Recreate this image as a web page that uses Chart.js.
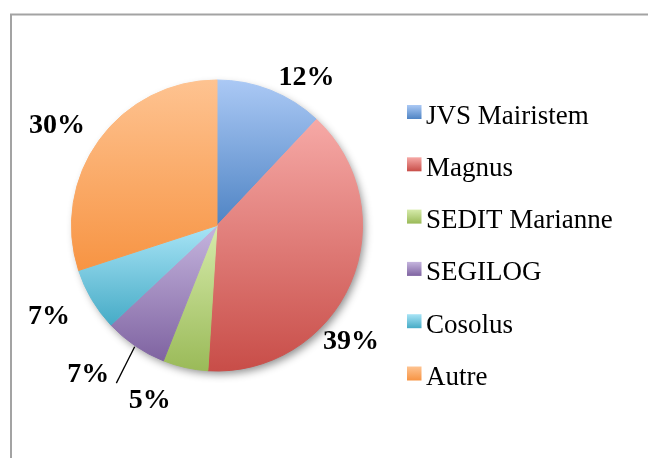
<!DOCTYPE html>
<html>
<head>
<meta charset="utf-8">
<script src="https://cdn.jsdelivr.net/npm/chart.js@4/dist/chart.umd.min.js"></script>
<style>
  html, body { margin: 0; padding: 0; background: #fff; }
  #wrap { position: relative; width: 648px; height: 458px; }
</style>
</head>
<body>
<div id="wrap"><canvas id="pieChart"></canvas></div>
<script>
// data
const categories = ["JVS Mairistem", "Magnus", "SEDIT Marianne", "SEGILOG", "Cosolus", "Autre"];
const shares = [12, 39, 5, 7, 7, 30];

// styles
const colorsTop = ["#abc9f5", "#f6a9a6", "#d6ebab", "#c5b5de", "#a8e4f6", "#fec391"];
const colorsBottom = ["#4f84c4", "#c84d48", "#9aba58", "#7f63a1", "#46abc6", "#f79443"];
const labelNudge = [[25, 15], [-27, 47], [-29, 4], [-30, 4], [-17, 2], [-18, 3]];
const leaderLines = [false, false, false, true, false, false];

const total = shares.reduce((a, b) => a + b, 0);

// vertical gradient over the bounding box of one slice
function sliceGradient(context) {
  const chart = context.chart;
  const area = chart.chartArea;
  const i = context.dataIndex;
  if (!area) return colorsBottom[i];
  const cx = (area.left + area.right) / 2;
  const cy = (area.top + area.bottom) / 2;
  const r = Math.min(area.width, area.height) / 2;
  let before = 0;
  for (let k = 0; k < i; k++) before += shares[k];
  const a0 = -Math.PI / 2 + 2 * Math.PI * before / total;
  const a1 = a0 + 2 * Math.PI * shares[i] / total;
  const ys = [cy, cy + r * Math.sin(a0), cy + r * Math.sin(a1)];
  [-Math.PI / 2, Math.PI / 2, 3 * Math.PI / 2].forEach((k) => {
    if (k >= a0 - 1e-9 && k <= a1 + 1e-9) ys.push(cy + r * Math.sin(k));
  });
  const g = chart.ctx.createLinearGradient(0, Math.min(...ys), 0, Math.max(...ys));
  g.addColorStop(0, colorsTop[i]);
  g.addColorStop(1, colorsBottom[i]);
  return g;
}

// frame around the chart area
const framePlugin = {
  id: "frame",
  beforeDraw(chart) {
    const ctx = chart.ctx;
    ctx.save();
    ctx.strokeStyle = "#a3a3a3";
    ctx.lineWidth = 2;
    ctx.beginPath();
    ctx.moveTo(11, chart.height);
    ctx.lineTo(11, 14.5);
    ctx.lineTo(chart.width, 14.5);
    ctx.stroke();
    ctx.restore();
  }
};

// soft shadow under the pie
const shadowPlugin = {
  id: "pieShadow",
  beforeDatasetsDraw(chart) {
    const el = chart.getDatasetMeta(0).data[0];
    if (!el) return;
    const ctx = chart.ctx;
    ctx.save();
    ctx.shadowColor = "rgba(0,0,0,0.45)";
    ctx.shadowBlur = 9;
    ctx.shadowOffsetX = 3;
    ctx.shadowOffsetY = 4;
    ctx.fillStyle = "#fff";
    ctx.beginPath();
    ctx.arc(el.x, el.y, el.outerRadius - 1, 0, Math.PI * 2);
    ctx.fill();
    ctx.restore();
  }
};

// percentage labels outside the slices
const labelPlugin = {
  id: "sliceLabels",
  afterDatasetsDraw(chart) {
    const ctx = chart.ctx;
    const meta = chart.getDatasetMeta(0);
    ctx.save();
    ctx.font = 'bold 28px "Liberation Serif", "DejaVu Serif", serif';
    ctx.fillStyle = "#000";
    ctx.textAlign = "center";
    ctx.textBaseline = "middle";
    meta.data.forEach((el, i) => {
      const mid = (el.startAngle + el.endAngle) / 2;
      const R = el.outerRadius;
      const lx = el.x + Math.cos(mid) * (R + 30) + labelNudge[i][0];
      const ly = el.y + Math.sin(mid) * (R + 30) + labelNudge[i][1];
      ctx.fillText(Math.round(shares[i] / total * 100) + "%", lx, ly);
      if (leaderLines[i]) {
        ctx.strokeStyle = "#000";
        ctx.lineWidth = 1.3;
        ctx.beginPath();
        ctx.moveTo(el.x + Math.cos(mid) * (R + 1), el.y + Math.sin(mid) * (R + 1));
        ctx.lineTo(lx + 28, ly + 8.5);
        ctx.stroke();
      }
    });
    ctx.restore();
  }
};

// legend on the right
const legendPlugin = {
  id: "rightLegend",
  afterDraw(chart) {
    const ctx = chart.ctx;
    ctx.save();
    ctx.font = '27px "Liberation Serif", "DejaVu Serif", serif';
    ctx.textBaseline = "alphabetic";
    ctx.textAlign = "left";
    categories.forEach((name, i) => {
      const base = 123.5 + 52.3 * i;
      const g = ctx.createLinearGradient(0, base - 18.5, 0, base - 4.5);
      g.addColorStop(0, colorsTop[i]);
      g.addColorStop(1, colorsBottom[i]);
      ctx.fillStyle = g;
      ctx.fillRect(407, base - 18.5, 14.5, 14);
      ctx.fillStyle = "#000";
      ctx.fillText(name, 426, base);
    });
    ctx.restore();
  }
};

new Chart(document.getElementById("pieChart"), {
  type: "pie",
  data: {
    labels: categories,
    datasets: [
      {
        data: shares,
        backgroundColor: sliceGradient,
        borderColor: sliceGradient,
        borderWidth: 1,
        clip: false,
      },
    ],
  },
  options: {
    responsive: true,
    maintainAspectRatio: false,
    animation: false,
    layout: { padding: { left: 71, right: 285, top: 79.5, bottom: 86.5 } },
    plugins: {
      legend: { display: false },
      tooltip: { enabled: false },
    },
  },
  plugins: [framePlugin, shadowPlugin, labelPlugin, legendPlugin],
});
</script>
</body>
</html>
